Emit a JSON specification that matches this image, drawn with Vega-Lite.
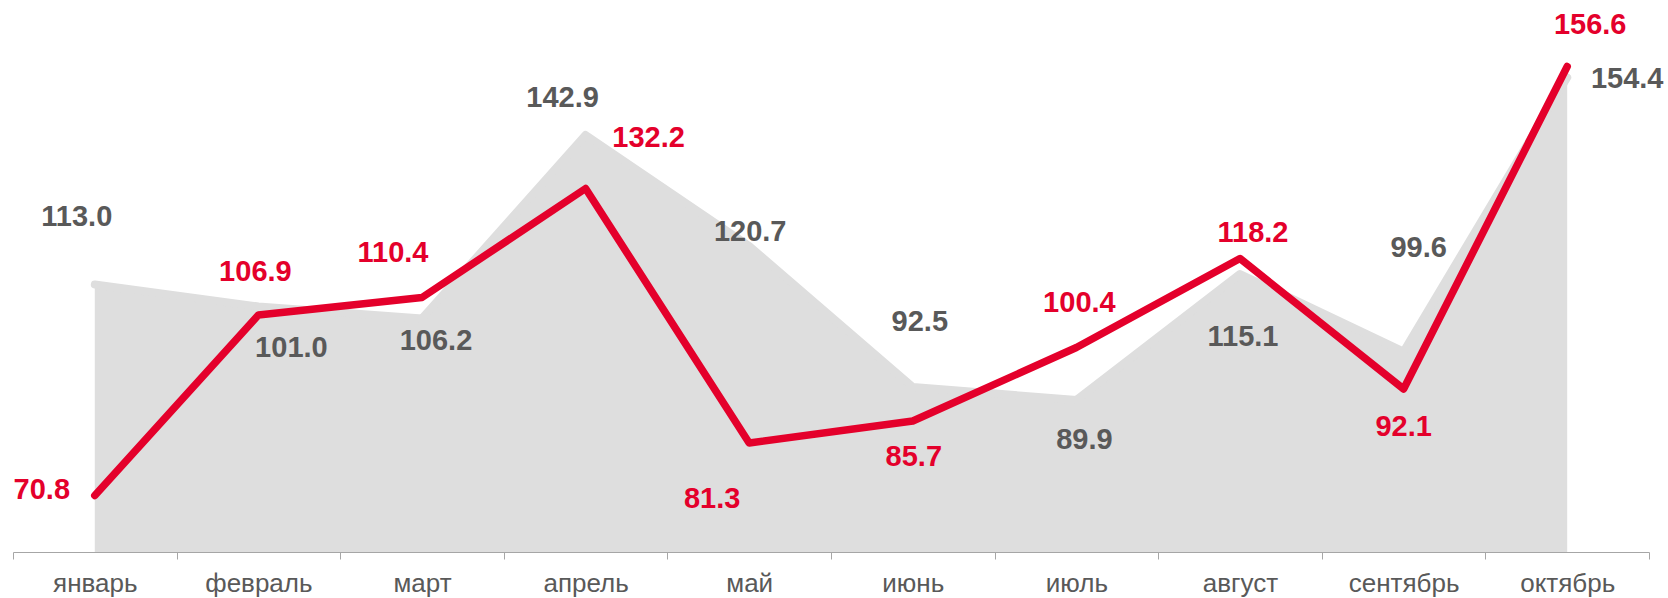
{
  "$schema": "https://vega.github.io/schema/vega-lite/v6.json",
  "width": 1636,
  "height": 500,
  "autosize": {"type": "none"},
  "padding": {"left": 13, "top": 52, "right": 19, "bottom": 46},
  "background": "#ffffff",
  "config": {
    "view": {"stroke": null},
    "text": {"font": "Liberation Sans", "fontWeight": "bold", "fontSize": 29, "baseline": "middle", "align": "center"}
  },
  "data": {
    "values": [
      {"m": "январь", "a": 113.0, "al": "113.0", "b": 70.8},
      {"m": "февраль", "a": 108.6, "al": "101.0", "b": 106.9},
      {"m": "март", "a": 106.2, "al": "106.2", "b": 110.4},
      {"m": "апрель", "a": 142.9, "al": "142.9", "b": 132.2},
      {"m": "май", "a": 120.7, "al": "120.7", "b": 81.3},
      {"m": "июнь", "a": 92.5, "al": "92.5", "b": 85.7},
      {"m": "июль", "a": 89.9, "al": "89.9", "b": 100.4},
      {"m": "август", "a": 115.1, "al": "115.1", "b": 118.2},
      {"m": "сентябрь", "a": 99.6, "al": "99.6", "b": 92.1},
      {"m": "октябрь", "a": 154.4, "al": "154.4", "b": 156.6}
    ]
  },
  "encoding": {
    "x": {
      "field": "m", "type": "nominal", "sort": null, "bandPosition": 0.5,
      "scale": {"type": "band", "paddingInner": 0, "paddingOuter": 0},
      "axis": {
        "title": null, "grid": false, "zindex": 1,
        "domainColor": "#a6a6a6", "domainWidth": 1,
        "tickColor": "#a6a6a6", "tickSize": 7, "tickWidth": 1, "tickBand": "extent",
        "labelFont": "Liberation Sans", "labelFontSize": 26, "labelColor": "#595959",
        "labelPadding": 32, "labelBaseline": "alphabetic", "labelAngle": 0
      }
    }
  },
  "layer": [
    {
      "mark": {"type": "area", "color": "#dedede"},
      "encoding": {
        "y": {"field": "a", "type": "quantitative", "scale": {"domain": [59.5, 159.5], "nice": false, "zero": false}, "axis": null},
        "y2": {"datum": 59.5}
      }
    },
    {
      "mark": {"type": "line", "color": "#dedede", "strokeWidth": 8, "strokeJoin": "round", "strokeCap": "round"},
      "encoding": {"y": {"field": "a", "type": "quantitative"}}
    },
    {
      "mark": {"type": "line", "color": "#e4002b", "strokeWidth": 7.5, "strokeJoin": "round", "strokeCap": "round"},
      "encoding": {"y": {"field": "b", "type": "quantitative"}}
    },
    {
      "encoding": {
        "y": {"field": "a", "type": "quantitative"},
        "text": {"field": "al", "type": "nominal"},
        "color": {"value": "#595959"}
      },
      "layer": [
        {"transform": [{"filter": "datum.m == 'январь'"}], "mark": {"type": "text", "dx": -18, "dy": -68}},
        {"transform": [{"filter": "datum.m == 'февраль'"}], "mark": {"type": "text", "dx": 33, "dy": 41}},
        {"transform": [{"filter": "datum.m == 'март'"}], "mark": {"type": "text", "dx": 14, "dy": 22}},
        {"transform": [{"filter": "datum.m == 'апрель'"}], "mark": {"type": "text", "dx": -23, "dy": -37}},
        {"transform": [{"filter": "datum.m == 'май'"}], "mark": {"type": "text", "dx": 1, "dy": -14}},
        {"transform": [{"filter": "datum.m == 'июнь'"}], "mark": {"type": "text", "dx": 7, "dy": -65}},
        {"transform": [{"filter": "datum.m == 'июль'"}], "mark": {"type": "text", "dx": 8, "dy": 40}},
        {"transform": [{"filter": "datum.m == 'август'"}], "mark": {"type": "text", "dx": 3, "dy": 63}},
        {"transform": [{"filter": "datum.m == 'сентябрь'"}], "mark": {"type": "text", "dx": 15, "dy": -104}},
        {"transform": [{"filter": "datum.m == 'октябрь'"}], "mark": {"type": "text", "dx": 60, "dy": 1}}
      ]
    },
    {
      "encoding": {
        "y": {"field": "b", "type": "quantitative"},
        "text": {"field": "b", "type": "quantitative", "format": ".1f"},
        "color": {"value": "#e4002b"}
      },
      "layer": [
        {"transform": [{"filter": "datum.m == 'январь'"}], "mark": {"type": "text", "dx": -53, "dy": -6}},
        {"transform": [{"filter": "datum.m == 'февраль'"}], "mark": {"type": "text", "dx": -3, "dy": -43}},
        {"transform": [{"filter": "datum.m == 'март'"}], "mark": {"type": "text", "dx": -29, "dy": -45}},
        {"transform": [{"filter": "datum.m == 'апрель'"}], "mark": {"type": "text", "dx": 63, "dy": -51}},
        {"transform": [{"filter": "datum.m == 'май'"}], "mark": {"type": "text", "dx": -37, "dy": 56}},
        {"transform": [{"filter": "datum.m == 'июнь'"}], "mark": {"type": "text", "dx": 1, "dy": 36}},
        {"transform": [{"filter": "datum.m == 'июль'"}], "mark": {"type": "text", "dx": 3, "dy": -45}},
        {"transform": [{"filter": "datum.m == 'август'"}], "mark": {"type": "text", "dx": 13, "dy": -26}},
        {"transform": [{"filter": "datum.m == 'сентябрь'"}], "mark": {"type": "text", "dx": 0, "dy": 38}},
        {"transform": [{"filter": "datum.m == 'октябрь'"}], "mark": {"type": "text", "dx": 23, "dy": -42}}
      ]
    }
  ]
}
